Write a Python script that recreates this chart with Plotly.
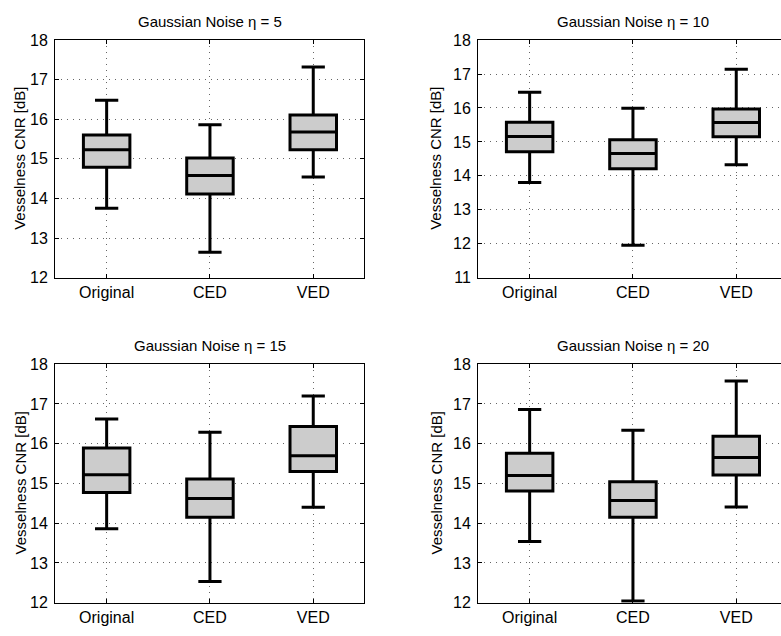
import plotly.graph_objects as go

# ---------------- data ----------------
categories = ["Original", "CED", "VED"]
eta_levels = [5, 10, 15, 20]

eta5_lower = [13.75, 12.64, 14.54]
eta5_q1 = [14.79, 14.11, 15.23]
eta5_median = [15.23, 14.58, 15.68]
eta5_q3 = [15.60, 15.02, 16.11]
eta5_upper = [16.48, 15.86, 17.32]

eta10_lower = [13.80, 11.95, 14.33]
eta10_q1 = [14.71, 14.21, 15.15]
eta10_median = [15.16, 14.66, 15.57]
eta10_q3 = [15.58, 15.06, 15.97]
eta10_upper = [16.46, 15.99, 17.14]

eta15_lower = [13.86, 12.53, 14.40]
eta15_q1 = [14.77, 14.15, 15.30]
eta15_median = [15.22, 14.62, 15.70]
eta15_q3 = [15.89, 15.11, 16.43]
eta15_upper = [16.62, 16.29, 17.20]

eta20_lower = [13.54, 12.04, 14.41]
eta20_q1 = [14.81, 14.15, 15.21]
eta20_median = [15.20, 14.57, 15.65]
eta20_q3 = [15.76, 15.04, 16.19]
eta20_upper = [16.86, 16.34, 17.58]

y_ranges = [[12, 18], [11, 18], [12, 18], [12, 18]]
y_label = "Vesselness CNR [dB]"

panels = [
    (eta5_lower, eta5_q1, eta5_median, eta5_q3, eta5_upper),
    (eta10_lower, eta10_q1, eta10_median, eta10_q3, eta10_upper),
    (eta15_lower, eta15_q1, eta15_median, eta15_q3, eta15_upper),
    (eta20_lower, eta20_q1, eta20_median, eta20_q3, eta20_upper),
]

# ---------------- layout geometry (pixels) ----------------
W, H = 781, 636
FONT = "Liberation Sans, Arial, sans-serif"

def px_x(p):
    return p / W

def px_y(p):
    return 1 - p / H

# axis boxes: (left, right, top, bottom) in pixels
boxes = [
    (55, 364, 33, 277),
    (478, 781, 33, 277),
    (55, 364, 366, 611),
    (478, 781, 366, 611),
]
unit_px = 103.3  # pixel per category step

fig = go.Figure()

for i, (lo, q1, med, q3, up) in enumerate(panels):
    suffix = "" if i == 0 else str(i + 1)
    fig.add_trace(go.Box(
        x=categories,
        lowerfence=lo, q1=q1, median=med, q3=q3, upperfence=up,
        xaxis="x" + suffix, yaxis="y" + suffix,
        width=0.45, whiskerwidth=0.5,
        fillcolor="#cccccc",
        line=dict(color="black", width=3),
        boxpoints=False, hoverinfo="skip", showlegend=False,
    ))

annotations = []
for i, (l, r, t, b) in enumerate(boxes):
    suffix = "" if i == 0 else str(i + 1)
    right_side = i in (1, 3)
    x_span = (r - l) / unit_px
    grid = dict(showgrid=True, gridcolor="#666666", griddash="1px,5px", gridwidth=1)
    fig.layout["xaxis" + suffix] = dict(
        domain=[px_x(l), px_x(r)],
        anchor="y" + suffix,
        type="category",
        categoryorder="array", categoryarray=categories,
        range=[-0.5, -0.5 + x_span],
        showline=True, linecolor="black", linewidth=1,
        mirror="ticks",
        ticks="inside", ticklen=4, tickcolor="black",
        tickfont=dict(family=FONT, size=16, color="black"),
        zeroline=False,
        **grid,
    )
    fig.layout["yaxis" + suffix] = dict(
        domain=[px_y(b), px_y(t)],
        anchor="x" + suffix,
        range=y_ranges[i],
        dtick=1,
        showline=True, linecolor="black", linewidth=1,
        mirror=False if right_side else "ticks",
        ticks="inside", ticklen=4, tickcolor="black",
        tickfont=dict(family=FONT, size=16, color="black"),
        ticklabelstandoff=3,
        zeroline=False,
        **grid,
    )
    # subplot title
    center_x = (l + (r if not right_side else l + 3 * unit_px)) / 2
    annotations.append(dict(
        text=f"Gaussian Noise \u03b7 = {eta_levels[i]}",
        x=px_x(center_x), y=px_y(t - 19),
        xref="paper", yref="paper", xanchor="center", yanchor="middle",
        showarrow=False, font=dict(family=FONT, size=15, color="black"),
    ))
    # y-axis label
    label_x = l - (35 if not right_side else 42)
    annotations.append(dict(
        text=y_label, textangle=-90,
        x=px_x(label_x), y=px_y((t + b) / 2),
        xref="paper", yref="paper", xanchor="center", yanchor="middle",
        showarrow=False, font=dict(family=FONT, size=15, color="black"),
    ))

fig.update_layout(
    width=W, height=H,
    margin=dict(l=0, r=0, t=0, b=0),
    paper_bgcolor="white", plot_bgcolor="white",
    annotations=annotations,
    font=dict(family=FONT, color="black"),
)

fig.write_html("out.html")
